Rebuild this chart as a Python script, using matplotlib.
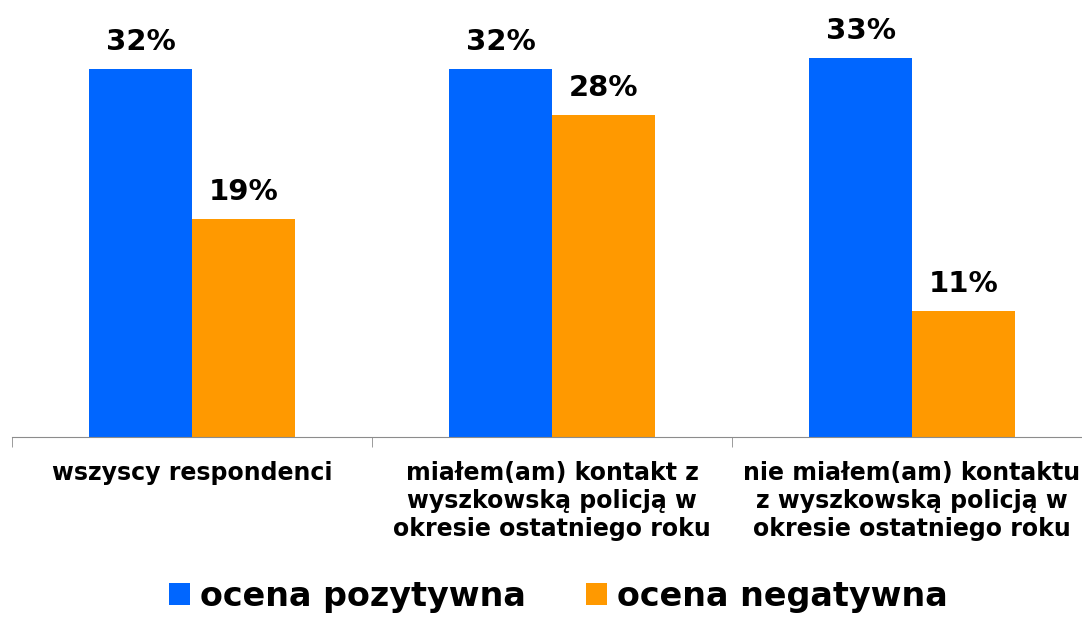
import matplotlib
matplotlib.use("Agg")
import matplotlib.pyplot as plt
from matplotlib.patches import Patch
import numpy as np

categories = ["wszyscy respondenci",
              "miałem(am) kontakt z\nwyszkowską policją w\nokresie ostatniego roku",
              "nie miałem(am) kontaktu\nz wyszkowską policją w\nokresie ostatniego roku"]
series_names = ["ocena pozytywna", "ocena negatywna"]
pozytywna = [32, 32, 33]
negatywna = [19, 28, 11]
colors = ["#0066FF", "#FF9900"]

plt.rcParams["font.family"] = ["DejaVu Sans"]

fig = plt.figure(figsize=(10.82, 6.21), dpi=100)
ax = fig.add_axes([12 / 1082, 184 / 621, 1080 / 1082, 437 / 621])

x = np.arange(len(categories))
w = 0.285
for i, (vals, col) in enumerate(zip([pozytywna, negatywna], colors)):
    xs = x + (i - 0.5) * w
    ax.bar(xs, vals, width=w, color=col, edgecolor="none")
    for xi, v in zip(xs, vals):
        ax.annotate(f"{v}%", (xi, v), xytext=(0, 9), textcoords="offset points",
                    ha="center", va="bottom", fontsize=21, fontweight="bold")

ax.set_xlim(-0.5, 2.5)
ax.set_ylim(0, 38)
for s in ["top", "right", "left"]:
    ax.spines[s].set_visible(False)
ax.spines["bottom"].set_color("#8c8c8c")
ax.set_yticks([])
ax.set_xticks(x)
ax.set_xticklabels(categories, fontsize=17, fontweight="bold", linespacing=1.22)
ax.tick_params(axis="x", which="major", length=0, pad=17)
ax.set_xticks([-0.5, 0.5, 1.5, 2.5], minor=True)
ax.tick_params(axis="x", which="minor", length=7, color="#8c8c8c")

handles = [Patch(facecolor=c, edgecolor="none") for c in colors]
fig.legend(handles, series_names, loc="lower center", bbox_to_anchor=(0.516, -0.035),
           ncol=2, frameon=False, prop={"weight": "bold", "size": 24},
           handlelength=0.62, handleheight=0.62, handletextpad=0.3, columnspacing=1.8)

fig.savefig("out.png", dpi=100)
